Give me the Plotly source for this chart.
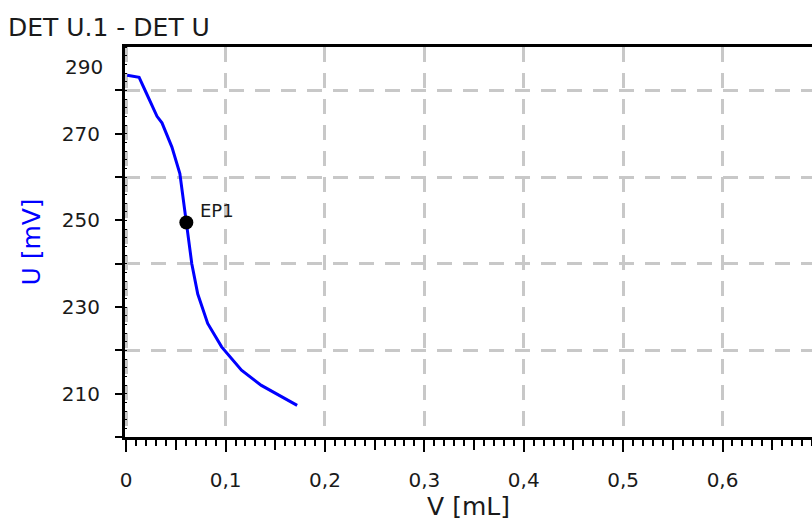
import plotly.graph_objects as go

# ---- data ----
volume_ml = [0.001, 0.013, 0.020, 0.026, 0.031, 0.036, 0.046, 0.054, 0.0605,
             0.066, 0.072, 0.082, 0.096, 0.116, 0.136, 0.155, 0.172]
potential_mv = [283.5, 283.0, 279.5, 276.5, 274.0, 272.5, 266.9, 260.8, 249.5,
                240.0, 233.0, 226.2, 220.8, 215.4, 211.9, 209.5, 207.3]

ep_name = ["EP1"]
ep_volume = [0.0605]
ep_potential = [249.5]

x_tick_vals = [0.0, 0.1, 0.2, 0.3, 0.4, 0.5, 0.6, 0.7]
x_tick_text = ["0", "0,1", "0,2", "0,3", "0,4", "0,5", "0,6", "0,7"]
x_half_ticks = [0.05, 0.15, 0.25, 0.35, 0.45, 0.55, 0.65]

y_tick_vals = [200, 210, 220, 230, 240, 250, 260, 270, 280]
y_tick_text = ["", "210", "", "230", "", "250", "", "270", ""]
y_top_label = [290, "290"]
y_grid_vals = [220, 240, 260, 280]

x_range = [-0.0012, 0.69]
y_range = [200, 290]

FONT = "DejaVu Sans"
TXT = "#1a1a1a"
GRID = "#c8c8c8"

fig = go.Figure()
# helper (invisible) traces so the overlay axes get drawn
fig.add_trace(go.Scatter(x=[None], y=[None], xaxis="x2", yaxis="y", showlegend=False,
                         hoverinfo="skip"))
fig.add_trace(go.Scatter(x=[None], y=[None], xaxis="x", yaxis="y2", showlegend=False,
                         hoverinfo="skip"))

fig.add_trace(go.Scatter(x=volume_ml, y=potential_mv, mode="lines",
                         line=dict(color="#0000ff", width=3), showlegend=False,
                         hoverinfo="skip"))
fig.add_trace(go.Scatter(x=ep_volume, y=ep_potential, mode="markers",
                         marker=dict(color="black", size=14),
                         showlegend=False, hoverinfo="skip"))
for name, xv, yv in zip(ep_name, ep_volume, ep_potential):
    fig.add_annotation(x=xv, y=yv, xref="x", yref="y", text=name, showarrow=False,
                       xanchor="left", yanchor="middle", xshift=12, yshift=12,
                       font=dict(family=FONT, size=18, color=TXT))

fig.update_layout(
    width=812, height=524,
    margin=dict(l=125, r=0, t=47, b=87),
    plot_bgcolor="white", paper_bgcolor="white",
    font=dict(family=FONT, color=TXT),
    title=dict(text="DET U.1 - DET U", font=dict(family=FONT, size=25, color=TXT),
               xref="container", x=8 / 812, xanchor="left",
               yref="container", y=1 - 27.5 / 524, yanchor="middle"),
    xaxis=dict(range=x_range, tickmode="array", tickvals=x_tick_vals, ticktext=x_tick_text,
               ticks="outside", ticklen=12, tickwidth=2, tickcolor="black",
               ticklabelstandoff=11,
               tickfont=dict(family=FONT, size=20, color=TXT),
               showline=True, linecolor="black", linewidth=2.5, mirror=True,
               showgrid=True, gridcolor=GRID, gridwidth=2.5, griddash="15px,11px",
               zeroline=False,
               minor=dict(dtick=0.01, tick0=0, ticks="outside", ticklen=6,
                          tickwidth=1.5, tickcolor="black", showgrid=False),
               title=dict(text="V [mL]", font=dict(family=FONT, size=25, color=TXT),
                          standoff=5)),
    xaxis2=dict(overlaying="x", matches="x", anchor="y", side="bottom",
                range=x_range, tickmode="array", tickvals=x_half_ticks,
                ticks="outside", ticklen=12, tickwidth=2, tickcolor="black",
                showticklabels=False, showgrid=False, showline=False, zeroline=False),
    yaxis=dict(range=y_range, tickmode="array", tickvals=y_tick_vals, ticktext=y_tick_text,
               ticks="outside", ticklen=7, tickwidth=2, tickcolor="black",
               ticklabelstandoff=11,
               tickfont=dict(family=FONT, size=20, color=TXT),
               showline=True, linecolor="black", linewidth=3,
               showgrid=False, zeroline=False,
               minor=dict(dtick=2, tick0=200, ticks="inside", ticklen=2,
                          tickwidth=1, tickcolor="black", showgrid=False),
               title=dict(text="U [mV]", font=dict(family=FONT, size=25, color="#0000ff"),
                          standoff=15)),
    yaxis2=dict(overlaying="y", matches="y", anchor="x", side="left",
                range=y_range, tickmode="array", tickvals=y_grid_vals,
                ticks="", showticklabels=False, showline=False, zeroline=False,
                showgrid=True, gridcolor=GRID, gridwidth=2.5, griddash="15px,11px"),
)

fig.add_annotation(x=0, xref="paper", xanchor="right", xshift=-20,
                   y=y_top_label[0], yref="y", yanchor="middle", yshift=-20,
                   text=y_top_label[1], showarrow=False,
                   font=dict(family=FONT, size=20, color=TXT))

fig.write_html("out.html")
